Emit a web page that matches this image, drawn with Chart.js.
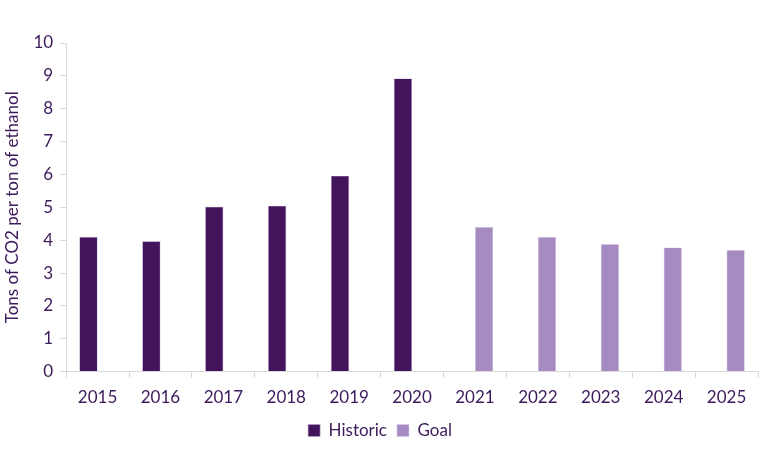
<!DOCTYPE html>
<html>
<head>
<meta charset="utf-8">
<script src="https://cdn.jsdelivr.net/npm/chart.js@4"></script>
<style>
  html, body { margin: 0; padding: 0; background: #fff; }
  #wrap { width: 768px; height: 471px; }
</style>
</head>
<body>
<div id="wrap"><canvas id="co2-chart"></canvas></div>
<script>
// Chart values
var years = ['2015', '2016', '2017', '2018', '2019', '2020', '2021', '2022', '2023', '2024', '2025'];
var historic = [4.1, 3.97, 5.02, 5.05, 5.96, 8.92, null, null, null, null, null];
var goal = [null, null, null, null, null, null, 4.4, 4.1, 3.88, 3.78, 3.7];
var yTicks = [0, 1, 2, 3, 4, 5, 6, 7, 8, 9, 10];

var textColor = '#3d1a5b';
var axisColor = '#d9d9d9';

Chart.defaults.font.family = 'Lato, "Noto Sans", sans-serif';
Chart.defaults.color = textColor;

var canvas = document.getElementById('co2-chart');
var chart = new Chart(canvas, {
    type: 'bar',
    data: {
        labels: years,
        datasets: [{
            label: 'Historic',
            data: historic,
            backgroundColor: '#43135c',
            borderColor: '#b9a6c9',
            borderWidth: 0.6,
            barPercentage: 1,
            categoryPercentage: 0.58
        }, {
            label: 'Goal',
            data: goal,
            backgroundColor: '#a68bc3',
            borderColor: '#d9cbe6',
            borderWidth: 0.6,
            barPercentage: 1,
            categoryPercentage: 0.58
        }]
    },
    options: {
        responsive: true,
        maintainAspectRatio: false,
        animation: false,
        layout: { padding: { top: 43, right: 10, left: 2, bottom: 22 } },
        plugins: {
            tooltip: { enabled: false },
            legend: {
                position: 'bottom',
                labels: {
                    boxWidth: 12,
                    boxHeight: 12,
                    padding: 10,
                    font: { size: 17 }
                }
            }
        },
        scales: {
            x: {
                grid: {
                    offset: true,
                    drawOnChartArea: false,
                    color: axisColor,
                    tickLength: 6
                },
                border: { color: axisColor },
                ticks: { font: { size: 17 }, padding: 10 },
                // pull the legend a little closer to the year labels
                afterFit: function (axis) {
                    axis.height -= 6;
                }
            },
            y: {
                min: 0,
                max: 10,
                afterBuildTicks: function (axis) {
                    axis.ticks = yTicks.map(function (v) { return { value: v }; });
                },
                grid: {
                    drawOnChartArea: false,
                    color: axisColor,
                    tickLength: 6
                },
                border: { color: axisColor },
                ticks: { font: { size: 17 }, padding: 7 },
                title: {
                    display: true,
                    text: 'Tons of CO2 per ton of ethanol',
                    font: { size: 17 },
                    padding: { top: 0, bottom: 4 }
                }
            }
        }
    }
});
</script>
</body>
</html>
